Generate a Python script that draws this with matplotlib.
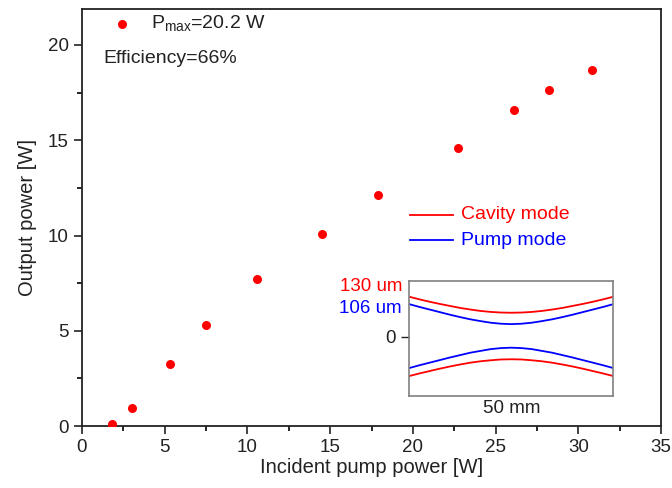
import matplotlib
matplotlib.use("Agg")
import matplotlib.pyplot as plt
from matplotlib.ticker import MultipleLocator

plt.rcParams['font.family'] = ['Liberation Sans', 'DejaVu Sans']

# main data: incident pump power vs output power
pump = [1.8, 3.0, 5.3, 7.5, 10.6, 14.5, 17.9, 22.7, 26.1, 28.2, 30.8]
output = [0.1, 0.95, 3.25, 5.3, 7.7, 10.1, 12.1, 14.6, 16.6, 17.65, 18.7]

# inset: beam radius along the crystal (arbitrary um scale)
z_mm = [-25, -22.5, -20, -17.5, -15, -12.5, -10, -7.5, -5, -2.5, 0,
        2.5, 5, 7.5, 10, 12.5, 15, 17.5, 20, 22.5, 25]
cav_top = [200, 187, 175, 164, 154, 144, 136, 129, 124, 121, 120,
           121, 124, 129, 136, 144, 154, 164, 175, 187, 200]
cav_bot = [-197, -184, -172, -160, -149, -139, -130, -123, -118, -114, -113,
           -114, -118, -123, -130, -139, -149, -160, -172, -184, -197]
pump_top = [163, 149, 136, 123, 110, 98, 87, 78, 70, 65, 63,
            65, 70, 78, 87, 98, 110, 123, 136, 149, 163]
pump_bot = [-157, -143, -130, -117, -104, -92, -80, -71, -62, -57, -55,
            -57, -62, -71, -80, -92, -104, -117, -130, -143, -157]

fig = plt.figure(figsize=(6.72, 4.88), dpi=100)
ax = fig.add_axes([0.122, 0.127, 0.862, 0.855])

ax.scatter(pump, output, s=30, color='red', zorder=3)
ax.set_xlim(0, 35)
ax.set_ylim(0, 21.9)
ax.xaxis.set_major_locator(MultipleLocator(5))
ax.xaxis.set_minor_locator(MultipleLocator(2.5))
ax.yaxis.set_major_locator(MultipleLocator(5))
ax.yaxis.set_minor_locator(MultipleLocator(2.5))
ax.tick_params(which='major', direction='out', length=6, width=1.2, labelsize=13.5, colors='#222222')
ax.tick_params(which='minor', direction='out', length=3.5, width=1.2)
for sp in ax.spines.values():
    sp.set_linewidth(1.3)
    sp.set_color('#222222')
ax.set_xlabel('Incident pump power [W]', fontsize=14.5, color='#222222', labelpad=1)
ax.set_ylabel('Output power [W]', fontsize=14.5, color='#222222', labelpad=8)

# legend-like annotations at top left
ax.scatter([2.4], [21.1], s=30, color='red', clip_on=False)
ax.text(4.2, 21.1, r'P$_{\mathregular{max}}$=20.2 W', fontsize=14, va='center', color='#222222')
ax.text(1.3, 19.3, 'Efficiency=66%', fontsize=14, va='center', color='#222222')

# inset legend
ax.plot([19.8, 22.4], [11.1, 11.1], color='red', lw=1.3)
ax.plot([19.8, 22.4], [9.75, 9.75], color='blue', lw=1.3)
ax.text(22.9, 11.1, 'Cavity mode', fontsize=14, color='red', va='center')
ax.text(22.9, 9.75, 'Pump mode', fontsize=14, color='blue', va='center')

# inset
ins = fig.add_axes([0.609, 0.1885, 0.3036, 0.2357])
ins.plot(z_mm, cav_top, color='red', lw=1.3)
ins.plot(z_mm, cav_bot, color='red', lw=1.3)
ins.plot(z_mm, pump_top, color='blue', lw=1.3)
ins.plot(z_mm, pump_bot, color='blue', lw=1.3)
ins.set_xlim(-25, 25)
ins.set_ylim(-297, 279)
ins.set_xticks([])
ins.set_yticks([0])
ins.set_yticklabels(['0'])
ins.tick_params(axis='y', direction='out', length=6, width=1, labelsize=13.5, colors='#222222')
for sp in ins.spines.values():
    sp.set_color('#808080')
    sp.set_linewidth(1.2)
ins.set_xlabel('50 mm', fontsize=13.5, color='#222222', labelpad=3)
ins.text(-0.035, 0.95, '130 um', transform=ins.transAxes, ha='right', va='center', fontsize=13.5, color='red')
ins.text(-0.035, 0.765, '106 um', transform=ins.transAxes, ha='right', va='center', fontsize=13.5, color='blue')

fig.savefig('out.png', dpi=100)
